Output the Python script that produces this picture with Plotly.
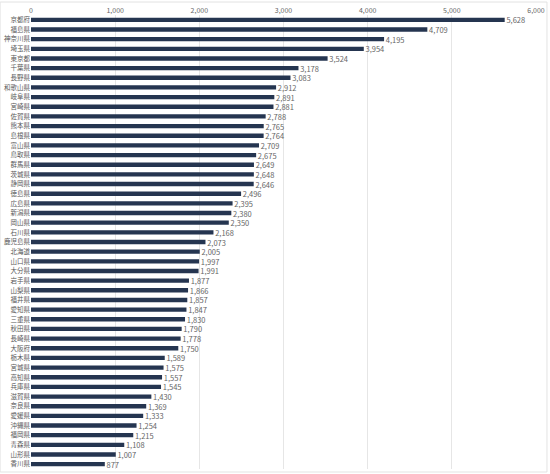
import plotly.graph_objects as go

prefectures = ['京都府', '福島県', '神奈川県', '埼玉県', '東京都', '千葉県', '長野県', '和歌山県',
               '岐阜県', '宮崎県', '佐賀県', '熊本県', '島根県', '富山県', '鳥取県', '群馬県',
               '茨城県', '静岡県', '徳島県', '広島県', '新潟県', '岡山県', '石川県', '鹿児島県',
               '北海道', '山口県', '大分県', '岩手県', '山梨県', '福井県', '愛知県', '三重県',
               '秋田県', '長崎県', '大阪府', '栃木県', '宮城県', '高知県', '兵庫県', '滋賀県',
               '奈良県', '愛媛県', '沖縄県', '福岡県', '青森県', '山形県', '香川県']
values = [5628, 4709, 4195, 3954, 3524, 3178, 3083, 2912,
          2891, 2881, 2788, 2765, 2764, 2709, 2675, 2649,
          2648, 2646, 2496, 2395, 2380, 2350, 2168, 2073,
          2005, 1997, 1991, 1877, 1866, 1857, 1847, 1830,
          1790, 1778, 1750, 1589, 1575, 1557, 1545, 1430,
          1369, 1333, 1254, 1215, 1108, 1007, 877]
x_ticks = [0, 1000, 2000, 3000, 4000, 5000, 6000]

fig = go.Figure(go.Bar(
    x=values, y=prefectures, orientation='h',
    marker=dict(color='#253550', line=dict(width=0)),
    # nbsp keeps a small gap between bar end and label
    text=[f'\u00a0{v:,}' for v in values], textposition='outside',
    constraintext='none',
    textfont=dict(size=7.5, color='#666666', family='Noto Sans CJK JP'),
    cliponaxis=False,
))

fig.update_layout(
    width=550, height=474,
    margin=dict(l=31, r=12, t=14, b=5),
    plot_bgcolor='white', paper_bgcolor='white',
    bargap=0.55, showlegend=False,
    font=dict(family='Noto Sans CJK JP', size=7, color='#595959'),
    # faint chart border like the original
    shapes=[dict(type='rect', xref='paper', yref='paper',
                 x0=-31/507, x1=1 + 11/507, y0=-3/455, y1=1 + 13/455,
                 line=dict(color='#e3e3e3', width=1))],
)
fig.update_xaxes(side='top', range=[0, 6000], tickvals=x_ticks, tickformat=',',
                 showgrid=True, gridcolor='#e6e6e6', zeroline=False, ticks='',
                 tickfont=dict(size=7, color='#666666'))
fig.update_yaxes(autorange='reversed', showgrid=False, ticks='', automargin=False,
                 tickfont=dict(size=6.5, color='#595959'))

# drop the default body margin so the figure fills the window
fig.write_html("out.html", config={'displayModeBar': False},
               post_script="document.body.style.margin='0';")
